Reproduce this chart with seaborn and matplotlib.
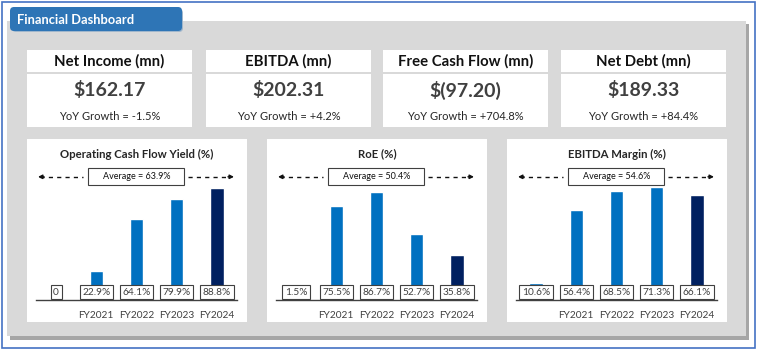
import matplotlib.pyplot as plt
import matplotlib.transforms as mtrans
from matplotlib.patches import Rectangle, FancyBboxPatch
import seaborn as sns
import pandas as pd

sns.set_theme(style='white')
plt.rcParams['font.family'] = ['Lato', 'DejaVu Sans']

# KPI cards
kpi_titles = ['Net Income (mn)', 'EBITDA (mn)', 'Free Cash Flow (mn)', 'Net Debt (mn)']
kpi_values = ['$162.17', '$202.31', '$(97.20)', '$189.33']
kpi_growth = ['-1.5%', '+4.2%', '+704.8%', '+84.4%']

# bar charts
years = ['', 'FY2021', 'FY2022', 'FY2023', 'FY2024']
chart_titles = ['Operating Cash Flow Yield (%)', 'RoE (%)', 'EBITDA Margin (%)']
ocf_yield = [0, 22.9, 64.1, 79.9, 88.8]
roe = [1.5, 75.5, 86.7, 52.7, 35.8]
ebitda_margin = [10.6, 56.4, 68.5, 71.3, 66.1]
averages = [63.9, 50.4, 54.6]

W, H = 757, 351
BLUE = '#0070c0'
NAVY = '#002060'
DARK = '#404040'


def label_text(v):
    if v == 0:
        return '0'
    return f'{v:.1f}%'


def main():
    fig = plt.figure(figsize=(W / 100, H / 100), dpi=100)
    fig.patch.set_facecolor('white')

    # background axes in pixel coords
    bg = fig.add_axes([0, 0, 1, 1])
    bg.set_xlim(0, W)
    bg.set_ylim(H, 0)
    bg.axis('off')

    bg.add_patch(Rectangle((2, 2), 753, 346, fill=False, ec='#4472c4', lw=1.2))
    bg.add_patch(Rectangle((10, 24), 739, 316, fc='#a6a6a6', ec='none'))
    bg.add_patch(Rectangle((7, 21), 739, 315, fc='#d9d9d9', ec='none'))
    bg.add_patch(FancyBboxPatch((12, 9), 171, 23, boxstyle='round,pad=0,rounding_size=4',
                                fc='#9fb6cc', ec='none'))
    bg.add_patch(FancyBboxPatch((10, 7), 172, 24, boxstyle='round,pad=0,rounding_size=4',
                                fc='#2e75b6', ec='none'))
    bg.text(17, 19.5, 'Financial Dashboard', color='white', fontsize=9.3,
            fontweight='bold', ha='left', va='center')

    card_x = [27, 206, 383, 561]
    for i in range(4):
        x = card_x[i]
        bg.add_patch(Rectangle((x, 50), 165, 22, fc='white', ec='none'))
        bg.add_patch(Rectangle((x, 74), 165, 53, fc='white', ec='none'))
        bg.text(x + 82.5, 61.5, kpi_titles[i], fontsize=10.7, fontweight='bold',
                color='#111111', ha='center', va='center')
        bg.text(x + 82.5, 90, kpi_values[i], fontsize=14, fontweight='bold',
                color=DARK, ha='center', va='center')
        bg.text(x + 82.5, 117, 'YoY Growth = ' + kpi_growth[i], fontsize=8,
                color='#262626', ha='center', va='center')

    panel_x = [27, 267, 507]
    series = [ocf_yield, roe, ebitda_margin]
    y_tops = [111, 112, 88.2]
    palette = [BLUE, BLUE, BLUE, BLUE, NAVY]

    for k in range(3):
        px = panel_x[k]
        bg.add_patch(Rectangle((px, 139), 220, 183, fc='white', ec='none'))
        bg.text(px + 110, 154, chart_titles[k], fontsize=8.2, fontweight='bold',
                color='#262626', ha='center', va='center')

        ax = fig.add_axes([(px + 9) / W, 1 - 300 / H, 201 / W, 140 / H])
        ax.patch.set_alpha(0)
        df = pd.DataFrame({'year': years, 'value': series[k]})
        sns.barplot(data=df, x='year', y='value', hue='year', palette=palette,
                    order=years, hue_order=years, width=0.33, legend=False,
                    saturation=1, ax=ax)
        ax.set_xlim(-0.5, 4.5)
        ax.set_ylim(0, y_tops[k])
        ax.set_xlabel('')
        ax.set_ylabel('')
        ax.set_yticks([])
        for s in ['top', 'left', 'right']:
            ax.spines[s].set_visible(False)
        ax.spines['bottom'].set_color(DARK)
        ax.spines['bottom'].set_linewidth(1)
        ax.tick_params(axis='x', length=0, pad=8, labelsize=7.3, colors=DARK)

        trans = mtrans.blended_transform_factory(ax.transData, ax.transAxes)
        for i, v in enumerate(series[k]):
            ax.text(i, 0.057, label_text(v), transform=trans, fontsize=7.3,
                    color=DARK, ha='center', va='center', zorder=5,
                    bbox=dict(boxstyle='square,pad=0.25', fc='white', ec=DARK, lw=0.8))

        # average marker
        ya = 0.88
        ax.add_patch(Rectangle((0.26, ya - 0.06), 0.478, 0.12, transform=ax.transAxes,
                               fc='white', ec=DARK, lw=0.8, clip_on=False))
        ax.text(0.5, ya, f'Average = {averages[k]}%', transform=ax.transAxes,
                fontsize=6.5, color='#111111', ha='center', va='center')
        ax.plot([0.02, 0.235], [ya, ya], transform=ax.transAxes, color='#111111',
                lw=1, ls=(0, (3, 3)), clip_on=False)
        ax.plot([0.755, 0.965], [ya, ya], transform=ax.transAxes, color='#111111',
                lw=1, ls=(0, (3, 3)), clip_on=False)
        ax.annotate('', xy=(0.01, ya), xytext=(0.04, ya), xycoords='axes fraction',
                    arrowprops=dict(arrowstyle='-|>', color='#111111', lw=1,
                                    mutation_scale=6, shrinkA=0, shrinkB=0))
        ax.annotate('', xy=(0.985, ya), xytext=(0.955, ya), xycoords='axes fraction',
                    arrowprops=dict(arrowstyle='-|>', color='#111111', lw=1,
                                    mutation_scale=6, shrinkA=0, shrinkB=0))

    fig.savefig('out.png', dpi=100)


if __name__ == '__main__':
    main()
